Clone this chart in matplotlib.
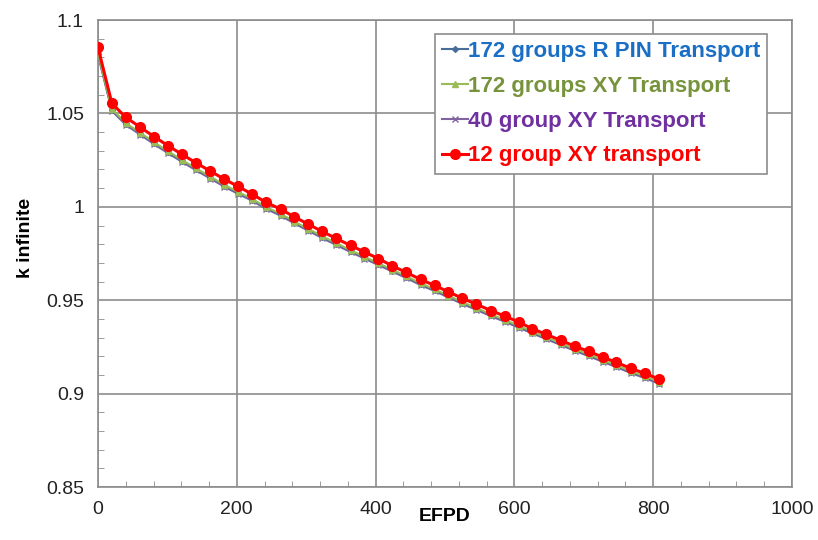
import matplotlib
matplotlib.use("Agg")
import matplotlib.pyplot as plt
from matplotlib.ticker import MultipleLocator

plt.rcParams['font.family'] = ['Liberation Sans', 'DejaVu Sans']

# EFPD burnup points
efpd = [0, 20, 40, 61, 81, 101, 121, 141, 162, 182, 202,
        222, 242, 263, 283, 303, 323, 343, 364, 384, 404,
        424, 444, 465, 485, 505, 525, 545, 566, 586, 606,
        626, 646, 667, 687, 707, 727, 747, 768, 788, 808]

k_172_rpin = [1.0818, 1.0519, 1.0444, 1.0391, 1.0340, 1.0292, 1.0246, 1.0201, 1.0156, 1.0113, 1.0074,
              1.0038, 0.9994, 0.9958, 0.9916, 0.9877, 0.9838, 0.9801, 0.9763, 0.9728, 0.9693,
              0.9659, 0.9624, 0.9586, 0.9554, 0.9520, 0.9485, 0.9454, 0.9420, 0.9390, 0.9359,
              0.9327, 0.9297, 0.9265, 0.9234, 0.9206, 0.9176, 0.9147, 0.9115, 0.9088, 0.9059]

k_172_xy = [1.0823, 1.0524, 1.0449, 1.0396, 1.0345, 1.0297, 1.0251, 1.0206, 1.0161, 1.0118, 1.0079,
            1.0043, 0.9999, 0.9963, 0.9921, 0.9882, 0.9843, 0.9806, 0.9768, 0.9733, 0.9698,
            0.9664, 0.9629, 0.9591, 0.9559, 0.9525, 0.9490, 0.9459, 0.9425, 0.9395, 0.9364,
            0.9332, 0.9302, 0.9270, 0.9239, 0.9211, 0.9181, 0.9152, 0.9120, 0.9093, 0.9064]

k_40_xy = [1.0813, 1.0514, 1.0439, 1.0386, 1.0335, 1.0287, 1.0241, 1.0196, 1.0151, 1.0108, 1.0069,
           1.0033, 0.9989, 0.9953, 0.9911, 0.9872, 0.9833, 0.9796, 0.9758, 0.9723, 0.9688,
           0.9654, 0.9619, 0.9581, 0.9549, 0.9515, 0.9480, 0.9449, 0.9415, 0.9385, 0.9354,
           0.9322, 0.9292, 0.9260, 0.9229, 0.9201, 0.9171, 0.9142, 0.9110, 0.9083, 0.9054]

k_12_xy = [1.0853, 1.0554, 1.0479, 1.0426, 1.0375, 1.0327, 1.0281, 1.0236, 1.0191, 1.0148, 1.0109,
           1.0068, 1.0024, 0.9988, 0.9946, 0.9907, 0.9868, 0.9831, 0.9793, 0.9758, 0.9723,
           0.9684, 0.9649, 0.9611, 0.9579, 0.9545, 0.9510, 0.9479, 0.9445, 0.9415, 0.9384,
           0.9347, 0.9317, 0.9285, 0.9254, 0.9226, 0.9196, 0.9167, 0.9135, 0.9108, 0.9079]

labels = ["172 groups R PIN Transport", "172 groups XY Transport",
          "40 group XY Transport", "12 group XY transport"]
text_colors = ["#1a6fc4", "#77933c", "#7030a0", "#ff0000"]

fig = plt.figure(figsize=(8.18, 5.4), dpi=100)
ax = fig.add_axes([0.1198, 0.0981, 0.8484, 0.8648])

ax.plot(efpd, k_172_rpin, color="#4a6c9b", lw=1.5, marker="D", ms=3, label=labels[0], zorder=3)
ax.plot(efpd, k_172_xy, color="#9bbb59", lw=1.5, marker="^", ms=5, label=labels[1], zorder=3)
ax.plot(efpd, k_40_xy, color="#8064a2", lw=1.5, marker="x", ms=4, mew=1, label=labels[2], zorder=2)
ax.plot(efpd, k_12_xy, color="#ff0000", lw=2.2, marker="o", ms=7, label=labels[3], zorder=4)

ax.set_xlim(0, 1000)
ax.set_ylim(0.85, 1.1)
ax.xaxis.set_major_locator(MultipleLocator(200))
ax.xaxis.set_minor_locator(MultipleLocator(40))
ax.yaxis.set_minor_locator(MultipleLocator(0.01))
ax.set_yticks([0.85, 0.9, 0.95, 1.0, 1.05, 1.1])
ax.set_yticklabels(["0.85", "0.9", "0.95", "1", "1.05", "1.1"])

ax.grid(True, which="major", color="#8c8c8c", lw=1.2)
ax.tick_params(which="major", length=0, labelsize=14, colors="#222222", pad=10)
ax.tick_params(which="minor", direction="in", length=4, color="#8c8c8c")
for s in ax.spines.values():
    s.set_color("#8c8c8c")
    s.set_linewidth(1.2)

ax.set_xlabel("EFPD", fontsize=14, fontweight="bold", labelpad=-7)
ax.set_ylabel("k infinite", fontsize=14, fontweight="bold")
ax.yaxis.set_label_coords(-0.092, 0.533)

leg = ax.legend(loc="upper right", bbox_to_anchor=(0.964, 0.970), borderaxespad=0,
                fancybox=False, edgecolor="#8c8c8c", framealpha=1,
                handlelength=1.17, handletextpad=0,
                labelspacing=0.62, borderpad=0.32,
                prop={"size": 16, "weight": "bold"})
leg.get_frame().set_linewidth(1.2)
for t, c in zip(leg.get_texts(), text_colors):
    t.set_color(c)

fig.savefig("out.png", dpi=100)
